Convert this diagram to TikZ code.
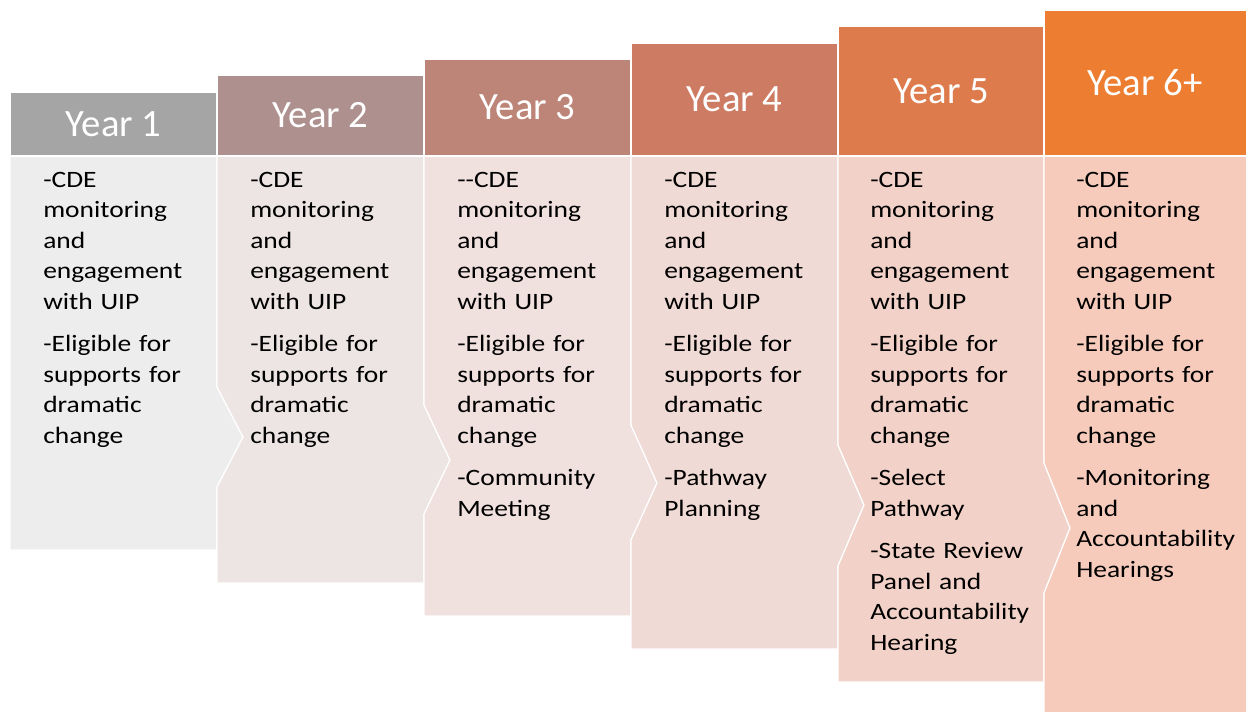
\documentclass[tikz,border=0pt]{standalone}
\usepackage{fontspec}
\setmainfont{Carlito}
\newfontfamily\bodyfont[FakeStretch=1.17]{Carlito}
\usepackage{xcolor}

% header fills, grey to orange
\definecolor{headA}{HTML}{A5A5A5}
\definecolor{headB}{HTML}{AE908E}
\definecolor{headC}{HTML}{BD8478}
\definecolor{headD}{HTML}{CD7C63}
\definecolor{headE}{HTML}{DD7B4D}
\definecolor{headF}{HTML}{ED7D31}
% body fills
\definecolor{bodyA}{HTML}{EDEDED}
\definecolor{bodyB}{HTML}{EDE5E4}
\definecolor{bodyC}{HTML}{F0E0DE}
\definecolor{bodyD}{HTML}{F0DAD5}
\definecolor{bodyE}{HTML}{F2D2C8}
\definecolor{bodyF}{HTML}{F6CBBB}

\newcommand{\parbreak}{\\[9pt]}

\begin{document}
\begin{tikzpicture}[x=0.75pt,y=0.75pt,yscale=-1,xscale=1,
  panel/.style={draw=white, line width=0.9pt},
  yearlabel/.style={inner sep=0pt, text=white, font=\fontsize{29}{35}\selectfont},
  itemlist/.style={anchor=base west, inner sep=0pt, text width=165pt, align=left,
    text=black, font=\bodyfont\fontsize{17.6}{22.9}\selectfont}]
\clip (0,0) rectangle (1246,711);

%Body panels (each one points into the next)
    \draw [panel, fill=bodyA] (10,156) -- (217,156) -- (217,387) -- (243,437) -- (217,487) -- (217,550) -- (10,550) -- cycle ;
    \draw [panel, fill=bodyB] (217,156) -- (424,156) -- (424,405) -- (450,460) -- (424,514) -- (424,583) -- (217,583) -- (217,487) -- (243,437) -- (217,387) -- cycle ;
    \draw [panel, fill=bodyC] (424,156) -- (631,156) -- (631,425) -- (657,483) -- (631,540) -- (631,616) -- (424,616) -- (424,514) -- (450,460) -- (424,405) -- cycle ;
    \draw [panel, fill=bodyD] (631,156) -- (838,156) -- (838,445) -- (864,505) -- (838,566) -- (838,649) -- (631,649) -- (631,540) -- (657,483) -- (631,425) -- cycle ;
    \draw [panel, fill=bodyE] (838,156) -- (1044,156) -- (1044,463) -- (1070,528) -- (1044,593) -- (1044,682) -- (838,682) -- (838,566) -- (864,505) -- (838,445) -- cycle ;
    \draw [panel, fill=bodyF] (1044,156) -- (1251,156) -- (1251,715) -- (1044,715) -- (1044,593) -- (1070,528) -- (1044,463) -- cycle ;

%Header boxes, stepping up
    \draw [panel, fill=headA] (10,92) rectangle (217,156) ;
    \draw [panel, fill=headB] (217,75) rectangle (424,156) ;
    \draw [panel, fill=headC] (424,59) rectangle (631,156) ;
    \draw [panel, fill=headD] (631,43) rectangle (838,156) ;
    \draw [panel, fill=headE] (838,26) rectangle (1044,156) ;
    \draw [panel, fill=headF] (1044,10) rectangle (1251,156) ;

% Year labels
    \node [yearlabel] (year1) at (113.5,124) {Year 1};
    \node [yearlabel] (year2) at (320.5,115.5) {Year 2};
    \node [yearlabel] (year3) at (527.5,107.5) {Year 3};
    \node [yearlabel] (year4) at (734.5,99.5) {Year 4};
    \node [yearlabel] (year5) at (941,91) {Year 5};
    \node [yearlabel] (year6) at (1145,83) {Year 6+};

% Text Nodes
    \node [itemlist] (list1) at (43,187) {-CDE\\monitoring\\and\\engagement\\with UIP\parbreak -Eligible for\\supports for\\dramatic\\change};
    \node [itemlist] (list2) at (250,187) {-CDE\\monitoring\\and\\engagement\\with UIP\parbreak -Eligible for\\supports for\\dramatic\\change};
    \node [itemlist] (list3) at (457,187) {-{}-CDE\\monitoring\\and\\engagement\\with UIP\parbreak -Eligible for\\supports for\\dramatic\\change\parbreak -Community\\Meeting};
    \node [itemlist] (list4) at (664,187) {-CDE\\monitoring\\and\\engagement\\with UIP\parbreak -Eligible for\\supports for\\dramatic\\change\parbreak -Pathway\\Planning};
    \node [itemlist] (list5) at (870,187) {-CDE\\monitoring\\and\\engagement\\with UIP\parbreak -Eligible for\\supports for\\dramatic\\change\parbreak -Select\\Pathway\parbreak -State Review\\Panel and\\Accountability\\Hearing};
    \node [itemlist] (list6) at (1076,187) {-CDE\\monitoring\\and\\engagement\\with UIP\parbreak -Eligible for\\supports for\\dramatic\\change\parbreak -Monitoring\\and\\Accountability\\Hearings};

\end{tikzpicture}
\end{document}
